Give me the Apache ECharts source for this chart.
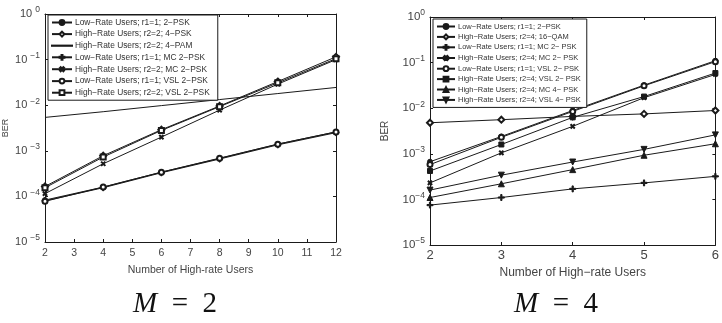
<!DOCTYPE html>
<html>
<head>
<meta charset="utf-8">
<script src="https://cdn.jsdelivr.net/npm/echarts@6/dist/echarts.min.js"></script>
<style>
  html, body { margin: 0; padding: 0; background: #fff; }
  #chart { width: 722px; height: 323px; }
</style>
</head>
<body>
<div id="chart"></div>
<script>
// M = 2 panel
const usersM2 = [2, 4, 6, 8, 10, 12];
const m2LowPsk = [8.3e-5, 1.6e-4, 3.4e-4, 6.8e-4, 1.4e-3, 2.6e-3];
const m2High4Psk = [1.65e-4, 7.8e-4, 2.9e-3, 9.6e-3, 3.3e-2, 0.115];
const m2High4Pam = [5.4e-3, 7.2e-3, 9.8e-3, 1.33e-2, 1.8e-2, 2.45e-2];
const m2LowMc = [8.0e-5, 1.55e-4, 3.3e-4, 6.6e-4, 1.35e-3, 2.5e-3];
const m2HighMc = [1.15e-4, 5.2e-4, 2.0e-3, 7.8e-3, 2.9e-2, 0.1];
const m2LowVsl = [7.8e-5, 1.6e-4, 3.4e-4, 6.9e-4, 1.4e-3, 2.6e-3];
const m2HighVsl = [1.55e-4, 7.3e-4, 2.8e-3, 9.3e-3, 3.1e-2, 0.105];

// M = 4 panel
const usersM4 = [2, 3, 4, 5, 6];
const m4LowPsk = [6.7e-4, 2.4e-3, 8.9e-3, 3.2e-2, 0.11];
const m4High16Qam = [4.8e-3, 5.6e-3, 6.6e-3, 7.5e-3, 8.9e-3];
const m4LowMc = [7.5e-5, 1.1e-4, 1.7e-4, 2.3e-4, 3.2e-4];
const m4HighMc = [2.3e-4, 1.05e-3, 4.0e-3, 1.7e-2, 5.5e-2];
const m4LowVsl = [5.8e-4, 2.3e-3, 8.5e-3, 3.1e-2, 0.105];
const m4HighVsl = [4.2e-4, 1.6e-3, 6.3e-3, 1.8e-2, 5.9e-2];
const m4HighMc4 = [1.1e-4, 2.2e-4, 4.5e-4, 9.3e-4, 1.66e-3];
const m4HighVsl4 = [1.6e-4, 3.4e-4, 6.6e-4, 1.25e-3, 2.6e-3];

const PLUS = "path://M4,0H6V4H10V6H6V10H4V6H0V4H4Z";
const BAR = "path://M0,0H100V1H0Z";
const INK = "#1a1a1a";
const FONT = "Liberation Sans";

const pairs = (xs, ys) => xs.map((x, i) => [x, ys[i]]);

function line(name, xs, ys, axis, symbol, extra) {
  return Object.assign({
    name,
    type: "line",
    xAxisIndex: axis,
    yAxisIndex: axis,
    data: pairs(xs, ys),
    symbol,
    symbolSize: 5,
    lineStyle: { color: INK, width: 1 },
    itemStyle: { color: INK, borderColor: INK, borderWidth: 1 },
    animation: false,
    z: 3,
  }, extra || {});
}

function powLabel(supSize, baseSize, spaced) {
  return {
    formatter: (v) => {
      const e = Math.round(Math.log10(v));
      const s = e === 0 ? "0" : "\u2212" + Math.abs(e);
      return "{b|10" + (spaced ? " " : "") + "}{s|" + s + "}";
    },
    rich: {
      b: { fontSize: baseSize, color: "#444", fontFamily: FONT },
      s: { fontSize: supSize, color: "#444", fontFamily: FONT, padding: [0, 0, baseSize * 0.7, 0] },
    },
  };
}

function xAxes(grid, min, max, labelSize, name, nameSize, nameGap, labelMargin) {
  return [
    {
      gridIndex: grid, type: "value", min, max, interval: 1, position: "bottom",
      axisLine: { lineStyle: { color: INK, width: 1 } },
      axisTick: { inside: true, length: 3, lineStyle: { color: INK } },
      axisLabel: { fontSize: labelSize, color: "#444", fontFamily: FONT, margin: labelMargin },
      splitLine: { show: false },
      name, nameLocation: "middle", nameGap,
      nameTextStyle: { fontSize: nameSize, color: "#444", fontFamily: FONT },
    },
    {
      gridIndex: grid, type: "value", min, max, interval: 1, position: "top",
      axisLine: { lineStyle: { color: INK, width: 1 } },
      axisTick: { inside: true, length: 3, lineStyle: { color: INK } },
      axisLabel: { show: false }, splitLine: { show: false },
    },
  ];
}

function yAxes(grid, lbl, nameGap, nameSize) {
  return [
    {
      gridIndex: grid, type: "log", logBase: 10, min: 1e-5, max: 1, interval: 1, position: "left",
      axisLine: { lineStyle: { color: INK, width: 1 } },
      axisTick: { inside: true, length: 3, lineStyle: { color: INK } },
      axisLabel: Object.assign({ margin: 5 }, lbl),
      splitLine: { show: false },
      name: "BER", nameLocation: "middle", nameGap,
      nameTextStyle: { fontSize: nameSize, color: "#444", fontFamily: FONT },
    },
    {
      gridIndex: grid, type: "log", logBase: 10, min: 1e-5, max: 1, interval: 1, position: "right",
      axisLine: { lineStyle: { color: INK, width: 1 } },
      axisTick: { inside: true, length: 3, lineStyle: { color: INK } },
      axisLabel: { show: false }, splitLine: { show: false },
    },
  ];
}

const namesM2 = [
  "Low\u2212Rate Users; r1=1; 2\u2212PSK",
  "High\u2212Rate Users; r2=2; 4\u2212PSK",
  "High\u2212Rate Users; r2=2; 4\u2212PAM",
  "Low\u2212Rate Users; r1=1; MC 2\u2212PSK",
  "High\u2212Rate Users; r2=2; MC 2\u2212PSK",
  "Low\u2212Rate Users; r1=1; VSL 2\u2212PSK",
  "High\u2212Rate Users; r2=2; VSL 2\u2212PSK",
];
const namesM4 = [
  "Low\u2212Rate Users; r1=1; 2\u2212PSK ",
  "High\u2212Rate Users; r2=4; 16\u2212QAM",
  "Low\u2212Rate Users; r1=1; MC 2\u2212 PSK",
  "High\u2212Rate Users; r2=4; MC 2\u2212 PSK",
  "Low\u2212Rate Users; r1=1; VSL 2\u2212 PSK",
  "High\u2212Rate Users; r2=4; VSL 2\u2212 PSK",
  "High\u2212Rate Users; r2=4; MC 4\u2212 PSK",
  "High\u2212Rate Users; r2=4; VSL 4\u2212 PSK",
];

const titleStyle = {
  fontFamily: "Liberation Serif", fontSize: 29, fontWeight: "normal", color: "#111",
  rich: { i: { fontFamily: "Liberation Serif", fontStyle: "italic", fontSize: 29, color: "#111" } },
};

const chart = echarts.init(document.getElementById("chart"), null, { renderer: "canvas" });

chart.setOption({
  backgroundColor: "#fff",
  animation: false,
  title: [
    { text: "{i|M}\u2002=\u20022", left: 170, top: 285, textAlign: "center", textStyle: titleStyle },
    { text: "{i|M}\u2002=\u20024", left: 551, top: 285, textAlign: "center", textStyle: titleStyle },
  ],
  legend: [
    {
      data: namesM2.map((n, i) => (i === 2 ? { name: n, icon: BAR } : n)),
      orient: "vertical", left: 48, top: 15,
      itemWidth: 20, itemHeight: 6, itemGap: 2.6,
      backgroundColor: "#fff", borderColor: INK, borderWidth: 1, padding: [3, 8, 3, 3],
      textStyle: { fontSize: 8.4, color: "#333", fontFamily: FONT, lineHeight: 9, padding: [0, 0, 0, -2] },
    },
    {
      data: namesM4, orient: "vertical", left: 433, top: 19,
      itemWidth: 18, itemHeight: 6, itemGap: 1.4,
      backgroundColor: "#fff", borderColor: INK, borderWidth: 1, padding: [3, 6, 3, 3],
      textStyle: { fontSize: 7.5, color: "#333", fontFamily: FONT, lineHeight: 9, padding: [0, 0, 0, -2] },
    },
  ],
  grid: [
    { left: 44, top: 14, width: 292, height: 228 },
    { left: 430, top: 17, width: 289, height: 228 },
  ],
  xAxis: [
    ...xAxes(0, 2, 12, 10.5, "Number of High-rate Users", 10.5, 23, 6),
    ...xAxes(1, 2, 6, 13, "Number of High\u2212rate Users", 12, 19, 4),
  ],
  yAxis: [
    ...yAxes(0, powLabel(8.5, 11, true), 35, 9),
    ...yAxes(1, powLabel(8.5, 11.5, false), 40, 10),
  ],
  series: [
    line(namesM2[0], usersM2, m2LowPsk, 0, "circle"),
    line(namesM2[1], usersM2, m2High4Psk, 0, "emptyDiamond", { symbolSize: 6 }),
    line(namesM2[2], usersM2, m2High4Pam, 0, "none"),
    line(namesM2[3], usersM2, m2LowMc, 0, PLUS, { symbolSize: 6 }),
    line(namesM2[4], usersM2, m2HighMc, 0, PLUS, { symbolSize: 5, symbolRotate: 45 }),
    line(namesM2[5], usersM2, m2LowVsl, 0, "emptyCircle"),
    line(namesM2[6], usersM2, m2HighVsl, 0, "emptyRect"),

    line(namesM4[0], usersM4, m4LowPsk, 2, "circle"),
    line(namesM4[1], usersM4, m4High16Qam, 2, "emptyDiamond", { symbolSize: 6 }),
    line(namesM4[2], usersM4, m4LowMc, 2, PLUS, { symbolSize: 6 }),
    line(namesM4[3], usersM4, m4HighMc, 2, PLUS, { symbolSize: 5, symbolRotate: 45 }),
    line(namesM4[4], usersM4, m4LowVsl, 2, "emptyCircle"),
    line(namesM4[5], usersM4, m4HighVsl, 2, "rect"),
    line(namesM4[6], usersM4, m4HighMc4, 2, "triangle", { symbolSize: 6 }),
    line(namesM4[7], usersM4, m4HighVsl4, 2, "triangle", { symbolSize: 6, symbolRotate: 180 }),
  ],
});
</script>
</body>
</html>
